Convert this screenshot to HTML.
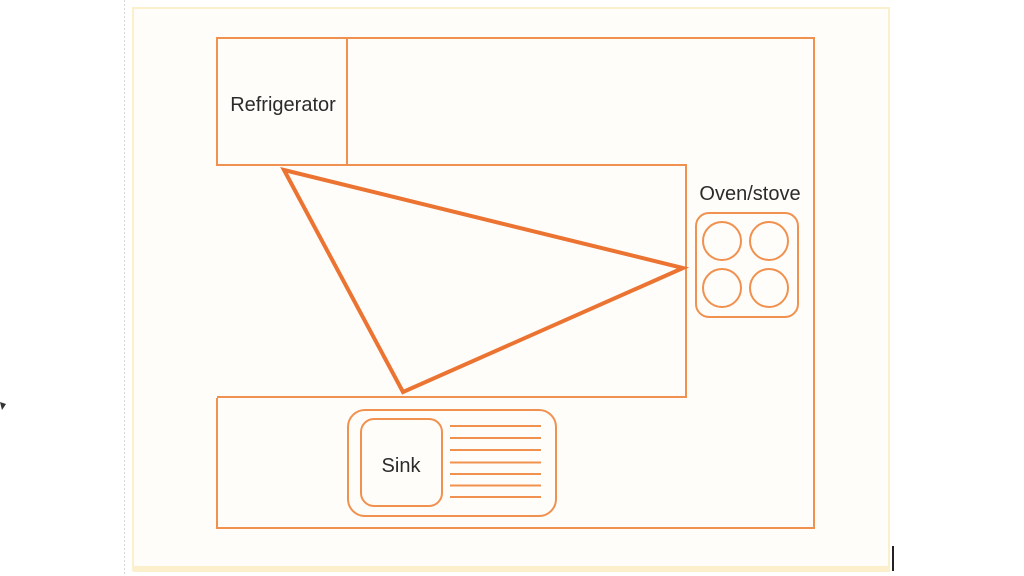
<!DOCTYPE html>
<html>
<head>
<meta charset="utf-8">
<style>
  html, body { margin:0; padding:0; background:#ffffff; }
  body { width:1024px; height:576px; overflow:hidden; position:relative; }
  svg { position:absolute; left:0; top:0; }
  text { font-family: "Liberation Sans", sans-serif; fill:#2b2b2b; }
</style>
</head>
<body>
<svg width="1024" height="576" viewBox="0 0 1024 576" xmlns="http://www.w3.org/2000/svg">
  <!-- gray dotted guide -->
  <line x1="124.5" y1="0" x2="124.5" y2="576" stroke="#d8d8d8" stroke-width="1" stroke-dasharray="2,2"/>
  <!-- frame -->
  <rect x="133" y="8" width="756" height="562" fill="#fffdf9" stroke="#fcf0cc" stroke-width="2"/>
  <rect x="133" y="566" width="757" height="6" fill="#fcf0cc"/>
  <!-- black marks -->
  <line x1="893" y1="546" x2="893" y2="571" stroke="#222" stroke-width="2"/>
  <path d="M0,402 L6,404 L2,410 Z" fill="#333"/>

  <!-- kitchen outline -->
  <path d="M217,398 L217,528 L814,528 L814,38 L217,38 L217,165 L686,165 L686,397 L217,397"
        fill="none" stroke="#f0914f" stroke-width="2"/>
  <line x1="347" y1="38" x2="347" y2="165" stroke="#f0914f" stroke-width="2"/>

  <!-- labels -->
  <text x="283" y="111" font-size="20" text-anchor="middle">Refrigerator</text>
  <text x="750" y="200" font-size="20" text-anchor="middle">Oven/stove</text>

  <!-- stove -->
  <rect x="696" y="213" width="102" height="104" rx="13" ry="13" fill="none" stroke="#f0914f" stroke-width="2"/>
  <circle cx="722" cy="241" r="19" fill="none" stroke="#f0914f" stroke-width="2"/>
  <circle cx="769" cy="241" r="19" fill="none" stroke="#f0914f" stroke-width="2"/>
  <circle cx="722" cy="288" r="19" fill="none" stroke="#f0914f" stroke-width="2"/>
  <circle cx="769" cy="288" r="19" fill="none" stroke="#f0914f" stroke-width="2"/>

  <!-- sink -->
  <rect x="348" y="410" width="208" height="106" rx="17" ry="17" fill="none" stroke="#f0914f" stroke-width="2"/>
  <rect x="361" y="419" width="81" height="87" rx="13" ry="13" fill="none" stroke="#f0914f" stroke-width="2"/>
  <text x="401" y="472" font-size="20" text-anchor="middle">Sink</text>
  <g stroke="#f0914f" stroke-width="2">
    <line x1="450" y1="426" x2="541" y2="426"/>
    <line x1="450" y1="438" x2="541" y2="438"/>
    <line x1="450" y1="450" x2="541" y2="450"/>
    <line x1="450" y1="462.5" x2="541" y2="462.5"/>
    <line x1="450" y1="474" x2="541" y2="474"/>
    <line x1="450" y1="485.5" x2="541" y2="485.5"/>
    <line x1="450" y1="497" x2="541" y2="497"/>
  </g>

  <!-- work triangle -->
  <polygon points="284,170 683,268 403,392" fill="none" stroke="#ec7432" stroke-width="4" stroke-linejoin="miter"/>
</svg>
</body>
</html>
